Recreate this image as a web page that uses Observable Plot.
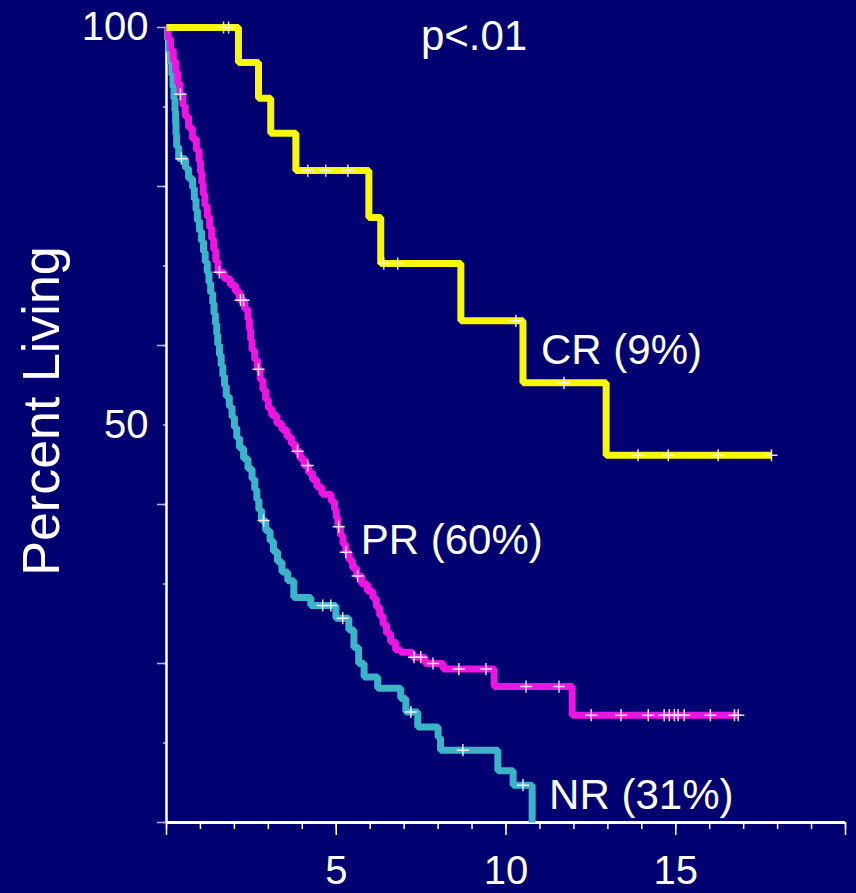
<!DOCTYPE html>
<html>
<head>
<meta charset="utf-8">
<script src="https://cdn.jsdelivr.net/npm/d3@7"></script>
<script src="https://cdn.jsdelivr.net/npm/@observablehq/plot@0.6"></script>
<style>
  html, body { margin: 0; padding: 0; background: #000070; }
  #chart { width: 856px; height: 893px; }
</style>
</head>
<body>
<div id="chart"></div>
<script>
// ---- Data (years, percent living) ----
const crTimes = [0, 2.12, 2.71, 3.07, 3.81, 5.96, 6.31, 8.67, 10.50, 12.95, 17.82];
const crSurv  = [100, 95.6, 91.1, 86.7, 82.0, 76.1, 70.3, 63.1, 55.3, 46.2, 46.2];
const crCensor = [1.68, 1.83, 4.16, 4.69, 5.34, 6.40, 6.81, 10.29, 11.71, 13.89, 14.78, 16.25, 17.82];

const prTimes = [0, 0.05, 0.12, 0.2, 0.27, 0.33, 0.4, 0.48, 0.55, 0.65, 0.76, 0.88, 0.96, 1.0, 1.04, 1.08,
  1.13, 1.2, 1.27, 1.33, 1.39, 1.45, 1.52, 1.7, 1.88, 2.03, 2.15, 2.3, 2.4, 2.44, 2.48, 2.52, 2.6, 2.68,
  2.76, 2.84, 2.92, 3.0, 3.1, 3.25, 3.4, 3.55, 3.68, 3.8, 3.93, 4.05, 4.18, 4.3, 4.43, 4.58, 4.85, 4.95,
  5.0, 5.05, 5.12, 5.2, 5.28, 5.38, 5.48, 5.6, 5.75, 5.92, 6.08, 6.18, 6.28, 6.38, 6.48, 6.6, 6.75, 6.9,
  7.25, 7.62, 8.15, 9.65, 11.95, 16.85];
const prSurv = [100, 98.6, 97.2, 95.8, 94.4, 93.0, 91.6, 90.2, 88.8, 87.4, 86.0, 84.6, 83.2, 81.8, 80.4, 79.0,
  77.6, 76.2, 74.8, 73.4, 72.0, 70.6, 69.2, 68.4, 67.6, 66.8, 65.7, 64.6, 63.3, 62.0, 60.7, 59.4, 58.2, 57.0,
  55.7, 54.4, 53.2, 52.1, 51.2, 50.2, 49.4, 48.5, 47.6, 46.7, 45.8, 44.9, 44.0, 43.1, 42.2, 41.3, 40.4, 39.4,
  38.3, 37.2, 36.1, 35.0, 34.0, 33.0, 32.0, 31.0, 30.0, 29.1, 28.2, 27.1, 26.0, 24.9, 23.8, 22.7, 21.7, 21.4,
  20.8, 20.0, 19.3, 17.1, 13.5, 13.5];
const prCensor = [0.41, 1.56, 2.18, 2.27, 2.71, 3.86, 4.16, 5.07, 5.28, 5.63, 7.29, 7.49, 7.85, 8.61, 9.41,
  10.59, 11.56, 12.51, 13.39, 14.19, 14.66, 14.81, 14.96, 15.07, 15.25, 16.02, 16.73, 16.84];

const nrTimes = [0, 0.03, 0.08, 0.12, 0.16, 0.19, 0.22, 0.25, 0.27, 0.28, 0.3, 0.36, 0.56, 0.65, 0.77, 0.82,
  0.87, 0.91, 0.97, 1.03, 1.09, 1.14, 1.2, 1.25, 1.3, 1.36, 1.4, 1.44, 1.48, 1.51, 1.56, 1.61, 1.66, 1.71,
  1.76, 1.85, 1.93, 2.0, 2.07, 2.15, 2.27, 2.4, 2.52, 2.6, 2.66, 2.72, 2.8, 2.92, 3.05, 3.15, 3.27, 3.4,
  3.57, 3.75, 4.25, 4.99, 5.37, 5.52, 5.66, 5.82, 6.22, 6.9, 7.05, 7.4, 8.0, 8.07, 9.76, 10.21, 10.77];
const nrSurv = [100, 98.5, 97, 95.5, 94, 92.5, 91, 89.5, 88, 86.5, 85, 83.5, 82.3, 81, 79.8, 78.4,
  77, 75.7, 74.4, 73.1, 71.8, 70.5, 69.2, 67.9, 66.6, 65.3, 64, 62.7, 61.4, 60.1, 58.8, 57.5, 56.2, 54.9,
  53.6, 52.3, 51, 49.7, 48.4, 47.1, 45.8, 44.5, 43.2, 41.9, 40.6, 39.3, 38, 36.7, 35.4, 34.1, 32.8, 31.5,
  30.4, 28.3, 27.3, 25.7, 24.2, 22.0, 20.0, 18.3, 16.9, 15.6, 13.9, 12.0, 10.7, 9.1, 6.5, 4.7, 0];
const nrCensor = [0.44, 2.86, 4.60, 4.84, 5.19, 7.20, 8.73, 10.50];

const xTicksMinor = d3.range(0, 21, 1);
const xTicksMajor = [0, 5, 10, 15, 20];
const xTickLabels = [5, 10, 15];
const yTicksMinor = d3.range(0, 101, 10);
const yTicksMajor = d3.range(0, 101, 20);
const yTickLabels = [100, 50];

const pLabel = [{label: "p<.01", t: 9.06, s: 98.9}];
const groupLabels = [
  {label: "CR (9%)",  t: 11.03, s: 59.4},
  {label: "PR (60%)", t: 5.72,  s: 35.5},
  {label: "NR (31%)", t: 11.27, s: 3.4}
];
const yTitle = "Percent Living";

// ---- Build rows ----
const rows = (t, s) => t.map((d, i) => ({t: d, s: s[i]}));
function levelAt(t, s, c) { let v = s[0]; for (let i = 0; i < t.length; i++) if (t[i] <= c) v = s[i]; return v; }
const censorRows = (t, s, c) => c.map(x => ({t: x, s: levelAt(t, s, x)}));

const bg = "#000070";
const font = "'Liberation Sans', Arial, Helvetica, sans-serif";
const lineOpts = {x: "t", y: "s", curve: "step-after", strokeWidth: 7, strokeLinejoin: "miter", strokeLinecap: "butt"};
const censorOpts = {x: "t", y: "s", symbol: "plus", r: 4, stroke: "#fff4ff", strokeWidth: 1.5, strokeOpacity: 0.9};

const chart = Plot.plot({
  width: 856,
  height: 893,
  marginLeft: 166,
  marginRight: 11,
  marginTop: 27,
  marginBottom: 71,
  style: {background: bg, color: "white", fontFamily: font, overflow: "visible"},
  x: {domain: [0, 20], label: null},
  y: {domain: [0, 100], label: null},
  marks: [
    Plot.axisX({ticks: xTicksMinor, tickSize: 7, tickFormat: () => "", stroke: "white", strokeWidth: 1.5, label: null}),
    Plot.axisX({ticks: xTicksMajor, tickSize: 13, tickFormat: () => "", stroke: "white", strokeWidth: 1.5, label: null}),
    Plot.axisX({ticks: xTickLabels, tickSize: 0, tickPadding: 33, fontSize: 40, fill: "white", label: null}),
    Plot.axisY({ticks: yTicksMinor, tickSize: 3, tickFormat: () => "", stroke: "#b8b8ec", strokeWidth: 1.5, label: null}),
    Plot.axisY({ticks: yTicksMajor, tickSize: 9, tickFormat: () => "", stroke: "#b8b8ec", strokeWidth: 1.5, label: null}),
    Plot.axisY({ticks: yTickLabels, tickSize: 0, tickPadding: 18, fontSize: 40, fill: "white", label: null}),
    Plot.ruleY([0], {stroke: "white", strokeWidth: 3}),
    Plot.ruleX([0], {stroke: "white", strokeWidth: 2.5}),
    Plot.line(rows(nrTimes, nrSurv), {...lineOpts, stroke: "#3cb4c8"}),
    Plot.line(rows(prTimes, prSurv), {...lineOpts, stroke: "#f014e0"}),
    Plot.line(rows(crTimes, crSurv), {...lineOpts, stroke: "#f8f800"}),
    Plot.dot(censorRows(nrTimes, nrSurv, nrCensor), censorOpts),
    Plot.dot(censorRows(prTimes, prSurv, prCensor), censorOpts),
    Plot.dot(censorRows(crTimes, crSurv, crCensor), censorOpts),
    Plot.text(pLabel, {x: "t", y: "s", text: "label", textAnchor: "middle", fontSize: 42, fill: "white", lineAnchor: "middle"}),
    Plot.text(groupLabels, {x: "t", y: "s", text: "label", textAnchor: "start", fontSize: 42, fill: "white", lineAnchor: "middle"}),
    Plot.text([yTitle], {frameAnchor: "left", textAnchor: "middle", rotate: -90, dx: -124, dy: -14, fontSize: 52, fill: "white"})
  ]
});
document.getElementById("chart").appendChild(chart);
</script>
</body>
</html>
